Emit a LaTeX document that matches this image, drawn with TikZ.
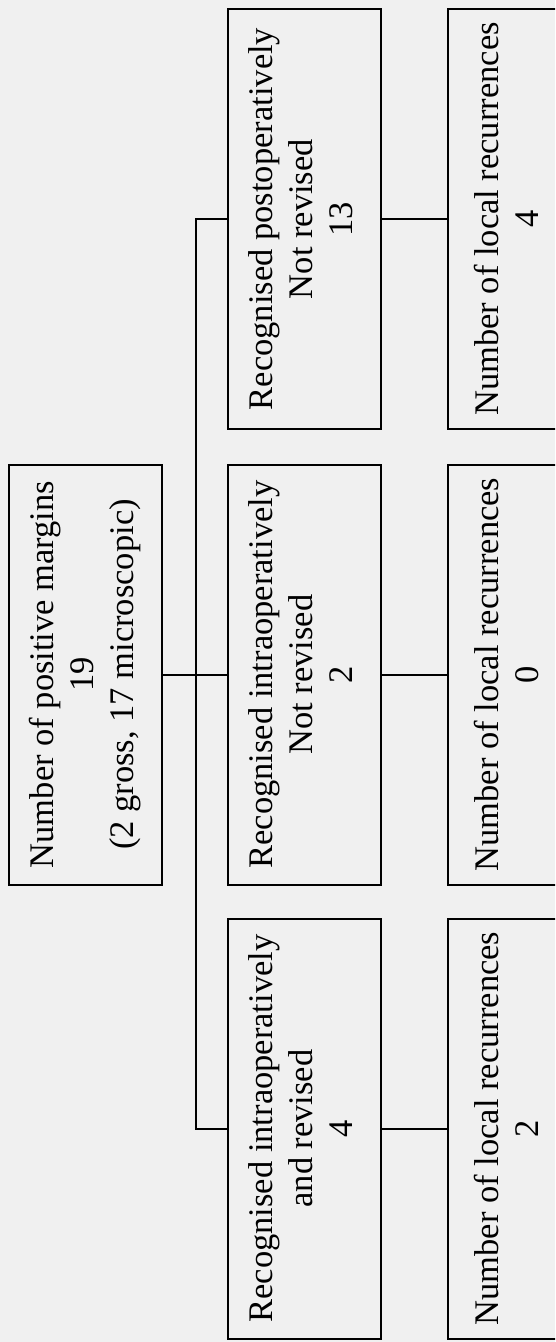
\documentclass[tikz,border=0pt]{standalone}
\usepackage{fontspec}
\setmainfont{Liberation Serif}
\definecolor{paper}{HTML}{F0F0F0}
\begin{document}
\begin{tikzpicture}[x=1pt,y=-1pt,
  box/.style={draw, line width=2pt, inner sep=0pt, minimum width=153pt,
              minimum height=420pt, font=\fontsize{34.5}{40}\selectfont},
  leafbox/.style={box, minimum width=124pt},
  link/.style={line width=2pt}]
% page and its frame
\fill[paper] (0,0) rectangle (555,1342);
\useasboundingbox (0,0) rectangle (555,1342);
\clip (0,0) rectangle (555,1342);

% root
\node[box] (root) at (85.5,674.5)
  {\rotatebox{90}{\begin{tabular}{c}Number of positive margins\\19\\(2 gross, 17 microscopic)\end{tabular}}};

% second level
\node[box] (mtop) at (304.5,219)
  {\rotatebox{90}{\begin{tabular}{c}Recognised postoperatively\\Not revised\\13\end{tabular}}};
\node[box] (mmid) at (304.5,674.5)
  {\rotatebox{90}{\begin{tabular}{c}Recognised intraoperatively\\Not revised\\2\end{tabular}}};
\node[box] (mbot) at (304.5,1128.5)
  {\rotatebox{90}{\begin{tabular}{c}Recognised intraoperatively\\and revised\\4\end{tabular}}};

% outcomes
\node[leafbox] (rtop) at (510,219)
  {\rotatebox{90}{\begin{tabular}{c}Number of local recurrences\\4\end{tabular}}};
\node[leafbox] (rmid) at (510,674.5)
  {\rotatebox{90}{\begin{tabular}{c}Number of local recurrences\\0\end{tabular}}};
\node[leafbox] (rbot) at (510,1128.5)
  {\rotatebox{90}{\begin{tabular}{c}Number of local recurrences\\2\end{tabular}}};

% connectors
\coordinate (spine) at (196,674.5);
\draw[link] (root.east) -- (mmid.west);
\draw[link] (mtop.west) -| (spine) |- (mbot.west);
\draw[link] (mtop.east) -- (rtop.west);
\draw[link] (mmid.east) -- (rmid.west);
\draw[link] (mbot.east) -- (rbot.west);
\end{tikzpicture}
\end{document}
